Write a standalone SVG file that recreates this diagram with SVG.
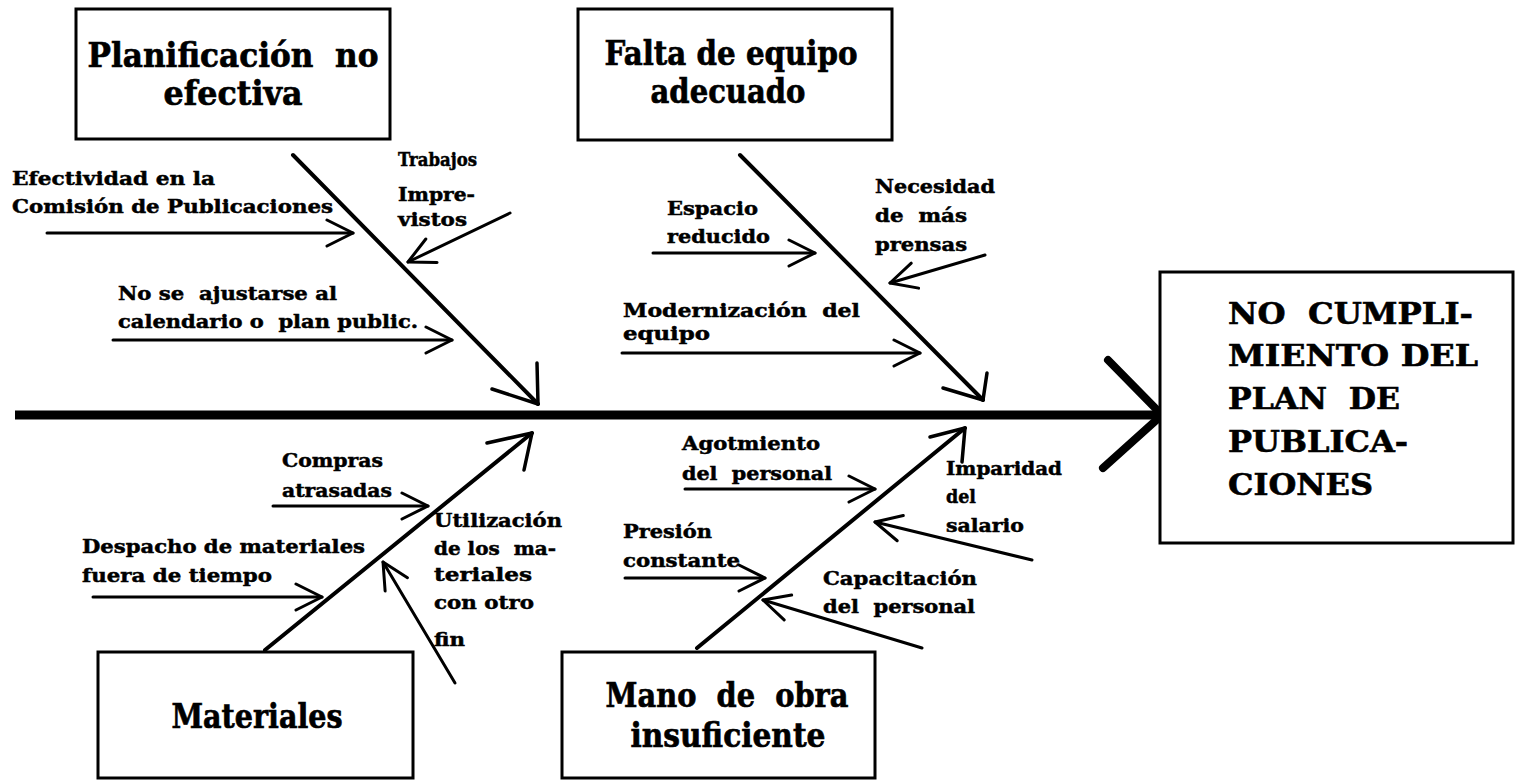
<svg xmlns="http://www.w3.org/2000/svg" width="1519" height="781" viewBox="0 0 1519 781">
<style>
  .t { font-family: "DejaVu Serif", "Liberation Serif", serif; font-weight: bold; fill: #000; stroke: #000; stroke-width: 0.5; }
  .lbl { font-size: 19px; }
  .ttl { font-size: 34px; stroke-width: 0.7; }
  .big { font-size: 30px; stroke-width: 0.6; }
  .box { fill: #fff; stroke: #000; stroke-width: 3; }
  .spine { stroke: #000; stroke-width: 9; fill: none; }
  .bighead { stroke: #000; stroke-width: 8; fill: none; stroke-linecap: round; stroke-linejoin: round; }
  .bone { stroke: #000; stroke-width: 4; fill: none; stroke-linecap: round; }
  .head { stroke: #000; stroke-width: 3.5; fill: none; stroke-linecap: round; stroke-linejoin: round; }
  .arr { stroke: #000; stroke-width: 3; fill: none; stroke-linecap: round; }
</style>
<defs>
  <marker id="ah" viewBox="0 0 32 32" markerWidth="32" markerHeight="32" refX="30" refY="16" orient="auto" markerUnits="userSpaceOnUse">
    <path d="M4,3 L30,16 L4,29" fill="none" stroke="#000" stroke-width="3" stroke-linecap="round" stroke-linejoin="round"/>
  </marker>
</defs>
<rect width="1519" height="781" fill="#fff"/>

<g id="connectors">
  <line class="spine" x1="15" y1="415" x2="1158" y2="415"/>
  <polyline class="bighead" points="1108,360 1162,415 1103,468"/>

  <line class="bone" x1="293" y1="155" x2="538" y2="404"/>
  <polyline class="head" points="492,389 538,404 537,363"/>
  <line class="bone" x1="740" y1="155" x2="983" y2="400"/>
  <polyline class="head" points="943,388 983,400 987,373"/>
  <line class="bone" x1="265" y1="650" x2="532" y2="433"/>
  <polyline class="head" points="487,443 532,433 524,470"/>
  <line class="bone" x1="697" y1="648" x2="965" y2="428"/>
  <polyline class="head" points="930,437 965,428 962,462"/>

  <line class="arr" x1="47" y1="233" x2="353" y2="233" marker-end="url(#ah)"/>
  <line class="arr" x1="510" y1="213" x2="408" y2="262" marker-end="url(#ah)"/>
  <line class="arr" x1="113" y1="340" x2="452" y2="340" marker-end="url(#ah)"/>
  <line class="arr" x1="653" y1="253" x2="815" y2="253" marker-end="url(#ah)"/>
  <line class="arr" x1="985" y1="255" x2="890" y2="283" marker-end="url(#ah)"/>
  <line class="arr" x1="622" y1="353" x2="920" y2="353" marker-end="url(#ah)"/>
  <line class="arr" x1="273" y1="506" x2="428" y2="506" marker-end="url(#ah)"/>
  <line class="arr" x1="93" y1="597" x2="322" y2="597" marker-end="url(#ah)"/>
  <line class="arr" x1="455" y1="683" x2="383" y2="562" marker-end="url(#ah)"/>
  <line class="arr" x1="685" y1="489" x2="875" y2="489" marker-end="url(#ah)"/>
  <line class="arr" x1="1032" y1="560" x2="875" y2="522" marker-end="url(#ah)"/>
  <line class="arr" x1="625" y1="578" x2="765" y2="578" marker-end="url(#ah)"/>
  <line class="arr" x1="922" y1="648" x2="763" y2="600" marker-end="url(#ah)"/>
</g>

<g id="node-planificacion">
  <rect class="box" x="76" y="9" width="314" height="130"/>
  <text class="t ttl" x="233" y="67" text-anchor="middle" textLength="291" lengthAdjust="spacingAndGlyphs">Planificación&#160; no</text>
  <text class="t ttl" x="233" y="105" text-anchor="middle" textLength="139" lengthAdjust="spacingAndGlyphs">efectiva</text>
</g>
<g id="node-falta">
  <rect class="box" x="578" y="9" width="314" height="131"/>
  <text class="t ttl" x="731" y="65" text-anchor="middle" textLength="253" lengthAdjust="spacingAndGlyphs">Falta de equipo</text>
  <text class="t ttl" x="728" y="103" text-anchor="middle" textLength="155" lengthAdjust="spacingAndGlyphs">adecuado</text>
</g>
<g id="node-resultado">
  <rect class="box" x="1160" y="272" width="353" height="271"/>
  <text class="t big" x="1228" y="324" textLength="245" lengthAdjust="spacingAndGlyphs">NO&#160; CUMPLI-</text>
  <text class="t big" x="1228" y="366" textLength="250" lengthAdjust="spacingAndGlyphs">MIENTO DEL</text>
  <text class="t big" x="1228" y="409" textLength="172" lengthAdjust="spacingAndGlyphs">PLAN&#160; DE</text>
  <text class="t big" x="1228" y="452" textLength="180" lengthAdjust="spacingAndGlyphs">PUBLICA-</text>
  <text class="t big" x="1228" y="495" textLength="145" lengthAdjust="spacingAndGlyphs">CIONES</text>
</g>
<g id="node-materiales">
  <rect class="box" x="98" y="652" width="315" height="126"/>
  <text class="t ttl" x="257" y="728" text-anchor="middle" textLength="171" lengthAdjust="spacingAndGlyphs">Materiales</text>
</g>
<g id="node-mano">
  <rect class="box" x="562" y="652" width="313" height="126"/>
  <text class="t ttl" x="727" y="707" text-anchor="middle" textLength="243" lengthAdjust="spacingAndGlyphs">Mano&#160; de&#160; obra</text>
  <text class="t ttl" x="728" y="747" text-anchor="middle" textLength="195" lengthAdjust="spacingAndGlyphs">insuficiente</text>
</g>

<g id="cause-efectividad">
  <text class="t lbl" x="12" y="185" textLength="203" lengthAdjust="spacingAndGlyphs">Efectividad en la</text>
  <text class="t lbl" x="12" y="213" textLength="321" lengthAdjust="spacingAndGlyphs">Comisión de Publicaciones</text>
</g>
<g id="cause-trabajos">
  <text class="t lbl" x="398" y="166" textLength="79" lengthAdjust="spacingAndGlyphs">Trabajos</text>
  <text class="t lbl" x="398" y="201" textLength="77" lengthAdjust="spacingAndGlyphs">Impre-</text>
  <text class="t lbl" x="398" y="226" textLength="69" lengthAdjust="spacingAndGlyphs">vistos</text>
</g>
<g id="cause-calendario">
  <text class="t lbl" x="118" y="300" textLength="219" lengthAdjust="spacingAndGlyphs">No se&#160; ajustarse al</text>
  <text class="t lbl" x="118" y="328" textLength="300" lengthAdjust="spacingAndGlyphs">calendario o&#160; plan public.</text>
</g>
<g id="cause-espacio">
  <text class="t lbl" x="667" y="215" textLength="91" lengthAdjust="spacingAndGlyphs">Espacio</text>
  <text class="t lbl" x="667" y="243" textLength="103" lengthAdjust="spacingAndGlyphs">reducido</text>
</g>
<g id="cause-prensas">
  <text class="t lbl" x="875" y="193" textLength="120" lengthAdjust="spacingAndGlyphs">Necesidad</text>
  <text class="t lbl" x="875" y="222" textLength="92" lengthAdjust="spacingAndGlyphs">de&#160; más</text>
  <text class="t lbl" x="875" y="251" textLength="92" lengthAdjust="spacingAndGlyphs">prensas</text>
</g>
<g id="cause-modernizacion">
  <text class="t lbl" x="623" y="317" textLength="237" lengthAdjust="spacingAndGlyphs">Modernización&#160; del</text>
  <text class="t lbl" x="623" y="340" textLength="87" lengthAdjust="spacingAndGlyphs">equipo</text>
</g>
<g id="cause-compras">
  <text class="t lbl" x="282" y="467" textLength="101" lengthAdjust="spacingAndGlyphs">Compras</text>
  <text class="t lbl" x="282" y="497" textLength="110" lengthAdjust="spacingAndGlyphs">atrasadas</text>
</g>
<g id="cause-despacho">
  <text class="t lbl" x="82" y="553" textLength="283" lengthAdjust="spacingAndGlyphs">Despacho de materiales</text>
  <text class="t lbl" x="82" y="582" textLength="190" lengthAdjust="spacingAndGlyphs">fuera de tiempo</text>
</g>
<g id="cause-utilizacion">
  <text class="t lbl" x="434" y="527" textLength="128" lengthAdjust="spacingAndGlyphs">Utilización</text>
  <text class="t lbl" x="434" y="555" textLength="122" lengthAdjust="spacingAndGlyphs">de los&#160; ma-</text>
  <text class="t lbl" x="434" y="581" textLength="98" lengthAdjust="spacingAndGlyphs">teriales</text>
  <text class="t lbl" x="434" y="609" textLength="100" lengthAdjust="spacingAndGlyphs">con otro</text>
  <text class="t lbl" x="434" y="646" textLength="31" lengthAdjust="spacingAndGlyphs">fin</text>
</g>
<g id="cause-agotamiento">
  <text class="t lbl" x="682" y="450" textLength="138" lengthAdjust="spacingAndGlyphs">Agotmiento</text>
  <text class="t lbl" x="682" y="480" textLength="150" lengthAdjust="spacingAndGlyphs">del&#160; personal</text>
</g>
<g id="cause-imparidad">
  <text class="t lbl" x="946" y="475" textLength="116" lengthAdjust="spacingAndGlyphs">Imparidad</text>
  <text class="t lbl" x="946" y="503" textLength="30" lengthAdjust="spacingAndGlyphs">del</text>
  <text class="t lbl" x="946" y="532" textLength="78" lengthAdjust="spacingAndGlyphs">salario</text>
</g>
<g id="cause-presion">
  <text class="t lbl" x="623" y="538" textLength="89" lengthAdjust="spacingAndGlyphs">Presión</text>
  <text class="t lbl" x="623" y="567" textLength="117" lengthAdjust="spacingAndGlyphs">constante</text>
</g>
<g id="cause-capacitacion">
  <text class="t lbl" x="823" y="585" textLength="154" lengthAdjust="spacingAndGlyphs">Capacitación</text>
  <text class="t lbl" x="823" y="613" textLength="152" lengthAdjust="spacingAndGlyphs">del&#160; personal</text>
</g>
</svg>
